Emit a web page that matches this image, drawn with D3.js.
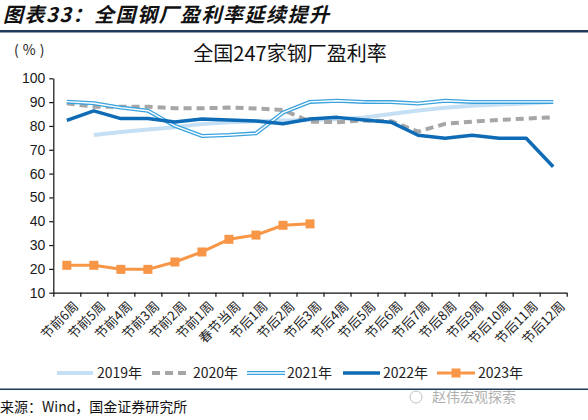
<!DOCTYPE html>
<html>
<head>
<meta charset="utf-8">
<script src="https://cdn.jsdelivr.net/npm/d3@7"></script>
<style>
  body { margin: 0; background: #fff; }
  svg { display: block; font-family: "Noto Sans CJK SC", "Liberation Sans", sans-serif; }
</style>
</head>
<body>
<div id="chart"></div>
<script>
// Week labels around the Spring Festival
const weeks = ["节前6周", "节前5周", "节前4周", "节前3周", "节前2周", "节前1周", "春节当周",
    "节后1周", "节后2周", "节后3周", "节后4周", "节后5周", "节后6周", "节后7周", "节后8周",
    "节后9周", "节后10周", "节后11周", "节后12周"];

// Profit ratio (%) per year
const y2019 = [null, 76.2, 77.5, 78.5, 79.5, 80.8, 81.5, 82.0, 82.3, 82.5, 82.8, 83.5, 85.0, 86.5, 87.6, 88.5, 89.0, 89.4, 90.0];
const y2020 = [89.5, 88.1, 88.1, 88.1, 87.4, 87.4, 87.7, 87.3, 86.7, 81.8, 81.6, 82.3, 82.0, 77.6, 80.9, 81.8, 82.5, 83.1, 83.6];
const y2021 = [90.2, 89.5, 87.7, 86.4, 80.0, 75.8, 76.2, 76.9, 85.6, 90.1, 90.6, 90.1, 90.0, 89.4, 90.6, 90.1, 90.1, 90.1, 90.1];
const y2022 = [82.3, 86.3, 83.1, 83.1, 81.7, 82.9, 82.5, 82.1, 80.9, 82.9, 83.6, 82.5, 81.6, 76.1, 74.8, 76.1, 74.8, 74.8, 62.9];
const y2023 = [21.5, 21.5, 19.8, 19.8, 22.9, 27.1, 32.4, 34.2, 38.3, 38.9];

const yTicks = [10, 20, 30, 40, 50, 60, 70, 80, 90, 100];

const width = 588, height = 420;

const svg = d3.select("#chart").append("svg")
    .attr("width", width)
    .attr("height", height);

// Header
svg.append("text")
    .attr("x", 3)
    .attr("y", 22)
    .attr("font-size", 20)
    .attr("font-weight", "bold")
    .attr("font-style", "italic")
    .attr("letter-spacing", 1.5)
    .attr("fill", "#111")
    .text("图表33：全国钢厂盈利率延续提升");

svg.append("rect")
    .attr("x", 0).attr("y", 30)
    .attr("width", width).attr("height", 2.5)
    .attr("fill", "#1f3b5c");

svg.append("text")
    .attr("x", 14)
    .attr("y", 55)
    .attr("font-size", 14)
    .attr("letter-spacing", 4)
    .attr("fill", "#222")
    .text("(%)");

svg.append("text")
    .attr("x", 290)
    .attr("y", 61)
    .attr("text-anchor", "middle")
    .attr("font-size", 20)
    .attr("fill", "#111")
    .text("全国247家钢厂盈利率");

// Scales
const plotLeft = 53.3, plotRight = 566.7, plotTop = 78.3, plotBottom = 292.7;

const x = d3.scaleBand()
    .domain(weeks)
    .range([plotLeft, plotRight])
    .padding(0);

const xb = d3.scaleLinear()
    .domain([0, weeks.length])
    .range([plotLeft, plotRight]);

const y = d3.scaleLinear()
    .domain([10, 100])
    .range([plotBottom, plotTop]);

const cx = function (i) { return x(weeks[i]) + x.bandwidth() / 2; };

// Axes
const yAxis = svg.append("g")
    .attr("transform", "translate(" + plotLeft + ",0)")
    .call(d3.axisLeft(y).tickValues(yTicks).tickSize(4).tickSizeOuter(0).tickPadding(4));
yAxis.selectAll("text")
    .attr("font-size", 14)
    .attr("font-family", "Liberation Sans, Arial, sans-serif")
    .attr("fill", "#1a1a1a");

svg.append("g")
    .attr("transform", "translate(0," + plotBottom + ")")
    .call(d3.axisBottom(xb).tickValues(d3.range(weeks.length + 1)).tickSize(4).tickSizeOuter(0).tickFormat(""));

svg.selectAll("path.domain, .tick line")
    .attr("stroke", "#111")
    .attr("stroke-width", 1.2);

svg.append("g")
    .selectAll("text")
    .data(weeks)
    .enter().append("text")
    .attr("transform", function (d, i) {
        return "translate(" + (cx(i) + 6) + "," + (plotBottom + 8) + ") rotate(-45)";
    })
    .attr("text-anchor", "end")
    .attr("dy", "0.7em")
    .attr("font-size", 13)
    .attr("fill", "#222")
    .text(function (d) { return d; });

// Lines
const line = d3.line()
    .defined(function (d) { return d != null; })
    .x(function (d, i) { return cx(i); })
    .y(function (d) { return y(d); });

const plot = svg.append("g").attr("fill", "none").attr("stroke-linejoin", "round");

plot.append("path")
    .attr("d", line(y2019))
    .attr("stroke", "#c5e0f5")
    .attr("stroke-width", 4);

plot.append("path")
    .attr("d", line(y2020))
    .attr("stroke", "#a6a6a6")
    .attr("stroke-width", 4)
    .attr("stroke-dasharray", "8,5");

plot.append("path")
    .attr("d", line(y2021))
    .attr("stroke", "#3aa3de")
    .attr("stroke-width", 4);
plot.append("path")
    .attr("d", line(y2021))
    .attr("stroke", "#fff")
    .attr("stroke-width", 1.4);

plot.append("path")
    .attr("d", line(y2022))
    .attr("stroke", "#0e6bb5")
    .attr("stroke-width", 3.5);

plot.append("path")
    .attr("d", line(y2023))
    .attr("stroke", "#f79646")
    .attr("stroke-width", 3);

svg.append("g")
    .selectAll("rect")
    .data(y2023)
    .enter().append("rect")
    .attr("x", function (d, i) { return cx(i) - 4.5; })
    .attr("y", function (d) { return y(d) - 4.5; })
    .attr("width", 9)
    .attr("height", 9)
    .attr("fill", "#f79646");

// Legend
const legendY = 373;
const legend = svg.append("g").attr("fill", "none");

legend.append("line").attr("x1", 57).attr("x2", 93).attr("y1", legendY).attr("y2", legendY)
    .attr("stroke", "#c5e0f5").attr("stroke-width", 4);
legend.append("line").attr("x1", 152).attr("x2", 186).attr("y1", legendY).attr("y2", legendY)
    .attr("stroke", "#a6a6a6").attr("stroke-width", 4).attr("stroke-dasharray", "8,5");
legend.append("line").attr("x1", 247).attr("x2", 285).attr("y1", legendY).attr("y2", legendY)
    .attr("stroke", "#3aa3de").attr("stroke-width", 4);
legend.append("line").attr("x1", 247).attr("x2", 285).attr("y1", legendY).attr("y2", legendY)
    .attr("stroke", "#fff").attr("stroke-width", 1.4);
legend.append("line").attr("x1", 343).attr("x2", 380).attr("y1", legendY).attr("y2", legendY)
    .attr("stroke", "#0e6bb5").attr("stroke-width", 3.5);
legend.append("line").attr("x1", 437).attr("x2", 475).attr("y1", legendY).attr("y2", legendY)
    .attr("stroke", "#f79646").attr("stroke-width", 3);
legend.append("rect").attr("x", 451.5).attr("y", legendY - 4.5).attr("width", 9).attr("height", 9)
    .attr("fill", "#f79646");

const legendText = [["2019年", 97], ["2020年", 193], ["2021年", 287], ["2022年", 383], ["2023年", 478]];
svg.append("g")
    .selectAll("text")
    .data(legendText)
    .enter().append("text")
    .attr("x", function (d) { return d[1]; })
    .attr("y", legendY + 5)
    .attr("font-size", 14)
    .attr("fill", "#222")
    .text(function (d) { return d[0]; });

// Footer
svg.append("rect")
    .attr("x", 0).attr("y", 388.5)
    .attr("width", width).attr("height", 1.5)
    .attr("fill", "#1f3b5c");

svg.append("text")
    .attr("x", 0)
    .attr("y", 412)
    .attr("font-size", 14)
    .attr("fill", "#111")
    .text("来源：Wind，国金证券研究所");

svg.append("text")
    .attr("x", 432)
    .attr("y", 402)
    .attr("font-size", 14)
    .attr("fill", "#b0b0b0")
    .text("赵伟宏观探索");
svg.append("circle")
    .attr("cx", 416).attr("cy", 397).attr("r", 6)
    .attr("fill", "none").attr("stroke", "#c0c0c0").attr("stroke-width", 1);
</script>
</body>
</html>
